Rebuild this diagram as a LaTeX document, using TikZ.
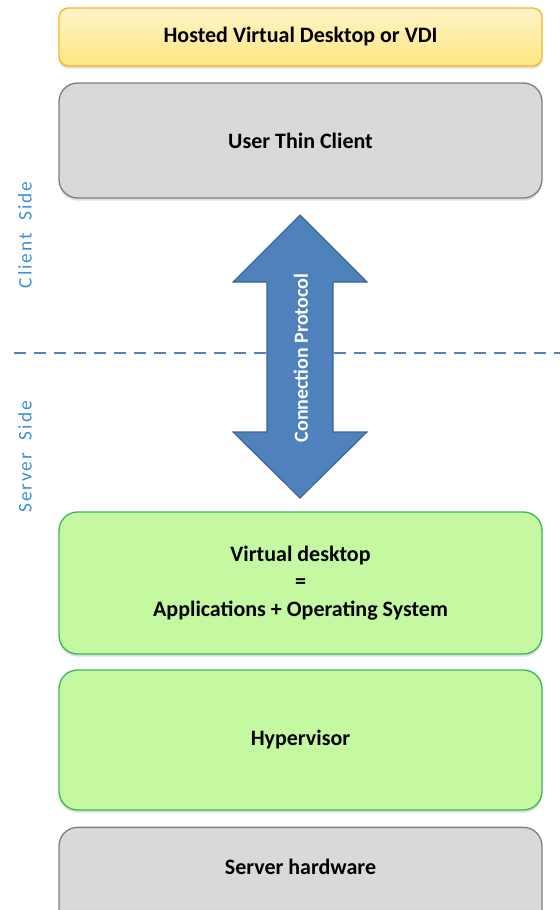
\documentclass[tikz,border=0pt]{standalone}
\usepackage{fontspec}
\setmainfont{Carlito}
\newfontfamily\sidefont[LetterSpace=10]{Carlito}
\usetikzlibrary{shadows}
\definecolor{sideblue}{HTML}{4F81BD}
\definecolor{labelblue}{HTML}{3F8ED6}
\definecolor{arrowedge}{HTML}{3A6496}
\definecolor{greyfill}{HTML}{D9D9D9}
\definecolor{greyedge}{HTML}{7F7F7F}
\definecolor{greenfill}{HTML}{C4F9A2}
\definecolor{greenedge}{HTML}{3CB85A}
\definecolor{yellowtop}{HTML}{FFF4C8}
\definecolor{yellowbot}{HTML}{FFE680}
\definecolor{yellowedge}{HTML}{F2B922}
\tikzset{
  layer/.style={draw, line width=1pt, rounded corners=14pt, minimum width=362.25pt,
    font=\bfseries\fontsize{16.5}{20.5}\selectfont, align=center,
    drop shadow={opacity=0.25, shadow xshift=0pt, shadow yshift=-2pt}},
  greylayer/.style={layer, fill=greyfill, draw=greyedge},
  greenlayer/.style={layer, fill=greenfill, draw=greenedge},
  sidelabel/.style={rotate=90, text=labelblue, font=\sidefont\fontsize{14.5}{16}\selectfont},
}
\begin{document}
\begin{tikzpicture}[x=0.75pt,y=-0.75pt]
\useasboundingbox (0,0) rectangle (560,910);
% banner
\node[layer, rounded corners=7pt, top color=yellowtop, bottom color=yellowbot, draw=yellowedge,
      minimum height=43.5pt] (vdi) at (300.5,37) {Hosted Virtual Desktop or VDI};
% client
\node[greylayer, minimum height=86.25pt] (client) at (300.5,140.5) {User Thin Client};
% side divider
\coordinate (dl) at (14,353);
\coordinate (dr) at (560,353);
\draw[sideblue, line width=2.2pt, dash pattern=on 9pt off 6pt] (dl) -- (dr);
\node[sidelabel] (clientside) at (25,235) {Client\ \ Side};
\node[sidelabel] (serverside) at (25,457) {Server\ \ Side};
% server stack
\node[greenlayer, minimum height=106.5pt] (vd) at (300.5,583)
  {Virtual desktop\\=\\Applications + Operating System};
\node[greenlayer, minimum height=105pt] (hyp) at (300.5,740) {Hypervisor};
\node[greylayer, minimum height=82pt] (hw) at (300.5,882) {};
\node[font=\bfseries\fontsize{16.5}{20.5}\selectfont] (hwtext) at (300.5,867) {Server hardware};
% connection protocol double arrow
\path[fill=sideblue, draw=arrowedge, line width=0.8pt]
  (300,215) -- (367,282) -- (333,282) -- (333,432) -- (367,432) -- (300,498)
  -- (233,432) -- (267,432) -- (267,282) -- (233,282) -- cycle;
\node[rotate=90, text=white, font=\bfseries\fontsize{15}{17}\selectfont] (proto) at (301,358) {Connection Protocol};
\end{tikzpicture}
\end{document}
